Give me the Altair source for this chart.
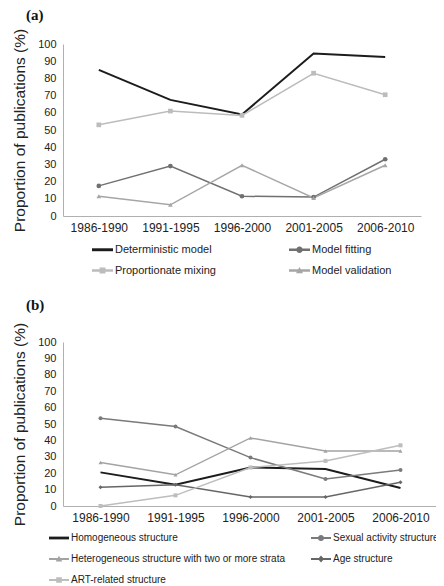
import altair as alt
import pandas as pd

periods = ["1986-1990", "1991-1995", "1996-2000", "2001-2005", "2006-2010"]

# Panel (a)
a_names = ["Deterministic model", "Model fitting", "Proportionate mixing", "Model validation"]
a_deterministic = [85, 67.5, 59, 94.5, 92.5]
a_fitting = [17.5, 29, 11.5, 11, 33]
a_mixing = [53, 61, 58.5, 83, 70.5]
a_validation = [11.5, 6.5, 29.5, 10.5, 29.5]
a_colors = ["#1c1c1c", "#707070", "#bcbcbc", "#a6a6a6"]
a_markers = [None, "circle", "square", "triangle-up"]

# Panel (b)
b_names = ["Homogeneous structure", "Sexual activity structure",
           "Heterogeneous structure with two or more strata", "Age structure",
           "ART-related structure"]
b_homogeneous = [20.5, 13, 23.5, 22.5, 11]
b_sexual = [53.5, 48.5, 29.5, 16.5, 22]
b_heterogeneous = [26.5, 19, 41.5, 33.5, 33.5]
b_age = [11.5, 13, 5.5, 5.5, 14.5]
b_art = [0, 6.5, 23.5, 27.5, 37]
b_colors = ["#1c1c1c", "#7a7a7a", "#a3a3a3", "#666666", "#bdbdbd"]
b_markers = [None, "circle", "triangle-up", "diamond", "square"]

FONT = "Liberation Sans"

BAR_THICK = "M-1,-0.14H1V0.14H-1Z"
BAR = "M-1,-0.11H1V0.11H-1Z"
MARK_PATHS = {
    "circle": "M0.31,0A0.31,0.31 0 1,1 -0.31,0A0.31,0.31 0 1,1 0.31,0Z",
    "square": "M-0.28,-0.28H0.28V0.28H-0.28Z",
    "triangle-up": "M0,-0.33L0.33,0.26H-0.33Z",
    "diamond": "M0,-0.36L0.3,0L0,0.36L-0.3,0Z",
}


def legend_paths(markers):
    out = []
    for m in markers:
        if m is None:
            out.append(BAR_THICK)
        else:
            out.append(BAR + " " + MARK_PATHS[m])
    return out


def make_df(names, series):
    rows = []
    for i, (n, vals) in enumerate(zip(names, series)):
        for p, v in zip(periods, vals):
            rows.append({"period": p, "value": v, "series": n, "order": i})
    return pd.DataFrame(rows)


def panel(names, series, colors, markers, title, w, h, lx, ly, colpad, rowpad,
          symsize, psize, legfont, toff):
    df = make_df(names, series)
    x = alt.X("period:N", sort=periods, title=None,
              axis=alt.Axis(labelAngle=0, labelFont=FONT, labelFontSize=12,
                            labelColor="#222222", ticks=False, labelPadding=6,
                            domainColor="#b0b0b0", domainWidth=1))
    y = alt.Y("value:Q", title="Proportion of publications (%)",
              scale=alt.Scale(domain=[0, 100], nice=False),
              axis=alt.Axis(values=list(range(0, 101, 10)), grid=False, ticks=False,
                            labelFont=FONT, labelFontSize=11, labelColor="#222222",
                            labelPadding=7, titleFont=FONT, titleFontSize=15.5,
                            titleFontWeight="normal", titleColor="#222222",
                            titlePadding=10, domainColor="#b0b0b0", domainWidth=1))
    base = alt.Chart(df)
    layers = []
    for n, c, m in zip(names, colors, markers):
        layers.append(
            base.transform_filter(alt.datum.series == n)
            .mark_line(color=c, strokeWidth=2.0 if m is None else 1.5)
            .encode(x=x, y=y)
        )
    for n, c, m in zip(names, colors, markers):
        if m is None:
            continue
        layers.append(
            base.transform_filter(alt.datum.series == n)
            .mark_point(filled=True, shape=m, size=psize, color=c, opacity=1)
            .encode(x=x, y=y)
        )
    leg = alt.Legend(title=None, orient="none", legendX=lx, legendY=ly, columns=2,
                     direction="horizontal",
                     columnPadding=colpad, rowPadding=rowpad, padding=0,
                     symbolSize=symsize, symbolStrokeWidth=0, labelFont=FONT,
                     labelFontSize=legfont, labelColor="#222222", labelOffset=2,
                     labelLimit=400)
    legend_layer = base.mark_point(filled=True, size=0, opacity=1).encode(
        x=x, y=y,
        color=alt.Color("series:N", sort=names,
                        scale=alt.Scale(domain=names, range=colors), legend=leg),
        shape=alt.Shape("series:N", sort=names,
                        scale=alt.Scale(domain=names, range=legend_paths(markers)), legend=leg),
    )
    layers.append(legend_layer)
    return alt.layer(*layers).properties(
        width=w, height=h,
        title=alt.TitleParams(title, anchor="start", frame="group", font="Liberation Serif",
                              fontSize=15, fontWeight="bold", color="#111111",
                              dx=-37, offset=toff),
    )


pa = panel(a_names, [a_deterministic, a_fitting, a_mixing, a_validation], a_colors, a_markers,
           "(a)", 358, 172, 29, 195, 73, 5, 441, 22, 11, 5)
pb = panel(b_names, [b_homogeneous, b_sexual, b_heterogeneous, b_age, b_art], b_colors, b_markers,
           "(b)", 375, 164, -14, 186, 26, 6, 400, 16, 10, 9)

chart = (
    alt.vconcat(pa, pb, spacing=22)
    .resolve_scale(color="independent", shape="independent")
    .resolve_legend(color="independent", shape="independent")
    .properties(
        padding={"left": 55, "top": 36, "right": 0, "bottom": 0},
        autosize=alt.AutoSizeParams(type="none"),
        usermeta={"embedOptions": {"width": 373, "height": 542}},
    )
    .configure_view(stroke=None)
)

chart.save("out.html", embed_options={"renderer": "svg", "actions": False})
